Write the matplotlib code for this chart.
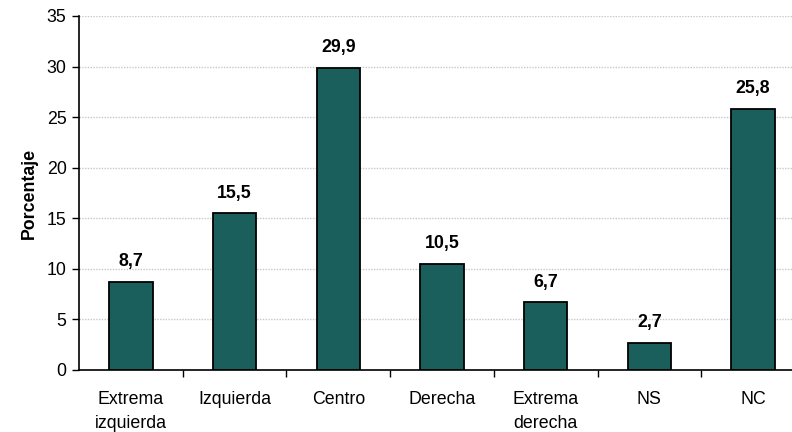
import matplotlib
matplotlib.use("Agg")
import matplotlib.pyplot as plt
import numpy as np

categories = ["Extrema\nizquierda", "Izquierda", "Centro", "Derecha", "Extrema\nderecha", "NS", "NC"]
values = [8.7, 15.5, 29.9, 10.5, 6.7, 2.7, 25.8]
labels = ["8,7", "15,5", "29,9", "10,5", "6,7", "2,7", "25,8"]

plt.rcParams['font.family'] = ['Liberation Sans', 'DejaVu Sans']

fig = plt.figure(figsize=(7.92, 4.32), dpi=100)
W, H = 792, 432
ax = fig.add_axes([79/W, 1 - 370/H, (805-79)/W, (370-16)/H])

FS = 12.8
x = np.arange(len(categories))
ax.bar(x, values, width=0.42, color="#1b5f5d", edgecolor="black", linewidth=1.3, zorder=3)
for xi, v, l in zip(x, values, labels):
    ax.text(xi, v + 1.15, l, ha="center", va="bottom", fontsize=FS, fontweight="bold")

ax.set_xlim(-0.5, len(categories) - 0.5)
ax.set_ylim(0, 35)
ax.set_yticks(np.arange(0, 36, 5))
ax.tick_params(axis="y", labelsize=FS, direction="out", length=5, width=1, pad=4)
ax.set_xticks(x)
ax.set_xticklabels(categories, fontsize=FS, linespacing=1.55)
ax.tick_params(axis="x", length=0, pad=15)
ax.set_xticks(np.arange(0.5, len(categories) - 0.5, 1), minor=True)
ax.tick_params(axis="x", which="minor", length=5, width=1, direction="out")
ax.yaxis.grid(True, color="#c8c8c8", linestyle=(0, (1, 1)), linewidth=1, zorder=0)
ax.set_axisbelow(True)
for s in ["top", "right"]:
    ax.spines[s].set_visible(False)
ax.spines["left"].set_linewidth(1.2)
ax.spines["bottom"].set_linewidth(1.2)
ax.set_ylabel("Porcentaje", fontsize=FS, fontweight="bold", labelpad=6)

fig.savefig("out.png", dpi=100)
